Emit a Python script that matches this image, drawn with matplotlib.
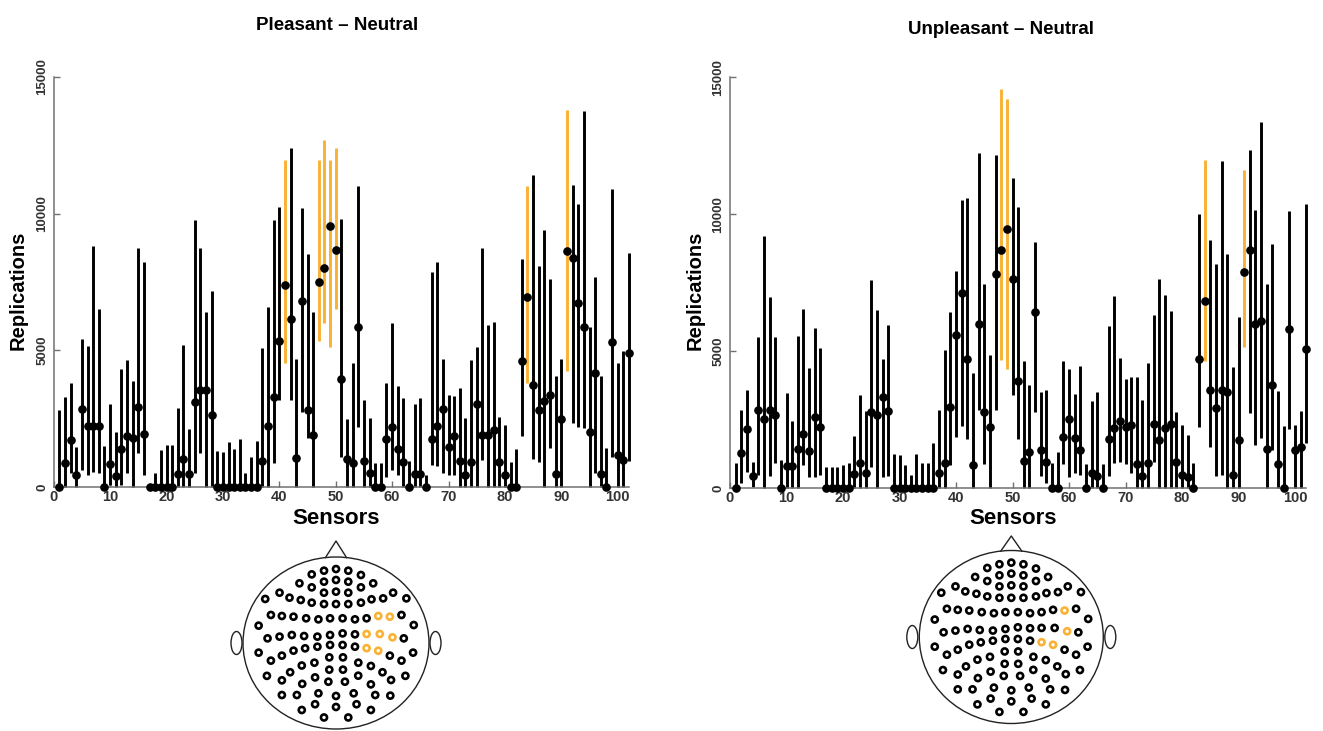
import numpy as np
import matplotlib
matplotlib.use("Agg")
import matplotlib.pyplot as plt
from matplotlib.patches import Ellipse

plt.rcParams['font.family'] = ['Liberation Sans', 'DejaVu Sans']

# ---- data: replications per sensor (mean, lower and upper bound) ----
sensors = np.arange(1, 103)

pleasant_mean = [0, 890, 1720, 440, 2850, 2230, 2230, 2230, 0, 840,
                 400, 1380, 1870, 1800, 2940, 1940, 0, 0, 0, 0,
                 0, 460, 1010, 460, 3120, 3550, 3550, 2630, 0, 0,
                 0, 0, 0, 0, 0, 0, 950, 2240, 3300, 5340,
                 7390, 6130, 1050, 6810, 2820, 1900, 7510, 8030, 9540, 8670,
                 3950, 1010, 870, 5860, 950, 520, 0, 0, 1760, 2210,
                 1390, 930, 0, 475, 475, 0, 1760, 2230, 2850, 1470,
                 1865, 950, 440, 930, 3030, 1900, 1900, 2080, 900, 440,
                 0, 0, 4620, 6940, 3730, 2820, 3160, 3360, 475, 2470,
                 8640, 8360, 6750, 5840, 2020, 4180, 475, 0, 5310, 1170,
                 990, 4890]
pleasant_low = [0, 0, 500, 0, 620, 440, 560, 500, 0, 70,
                0, 70, 500, 0, 1230, 440, 0, 0, 0, 0,
                0, 0, 0, 0, 500, 1230, 0, 0, 0, 0,
                0, 0, 0, 0, 0, 0, 0, 0, 890, 3180,
                4520, 3200, 0, 2750, 1780, 0, 5350, 5990, 5130, 6520,
                1110, 0, 0, 2210, 0, 0, 0, 0, 380, 620,
                440, 0, 0, 0, 0, 0, 800, 770, 500, 440,
                440, 0, 0, 0, 0, 990, 0, 0, 0, 0,
                0, 0, 1870, 3820, 1010, 930, 0, 1410, 0, 0,
                4250, 2350, 2210, 2150, 0, 500, 0, 0, 1110, 0,
                0, 950]
pleasant_high = [2820, 3300, 3820, 1450, 5400, 5160, 8810, 6530, 1510, 3020,
                 2010, 4300, 4640, 3880, 8730, 8250, 100, 500, 1350, 1540,
                 1540, 2900, 5180, 2130, 9760, 8750, 6390, 7170, 1330, 1290,
                 1660, 1400, 1740, 500, 1110, 1700, 5070, 6600, 9760, 10250,
                 11960, 12420, 4700, 10210, 8520, 6410, 11960, 12710, 11960, 12420,
                 9800, 2490, 4520, 11010, 3180, 2510, 870, 870, 3790, 5990,
                 3690, 3240, 950, 3020, 3240, 440, 7850, 8240, 4680, 3360,
                 3330, 3640, 2540, 4640, 5130, 8750, 5920, 6020, 2570, 2270,
                 930, 1380, 8330, 11010, 11410, 8090, 9400, 7610, 4070, 4680,
                 13810, 11040, 10350, 13760, 5860, 7670, 4060, 1410, 10900, 4550,
                 4990, 8550]
pleasant_hit = [41, 47, 48, 49, 50, 84, 91]

unpleasant_mean = [0, 1300, 2160, 450, 2840, 2530, 2840, 2680, 0, 820,
                   820, 1430, 1990, 1360, 2590, 2230, 0, 0, 0, 0,
                   0, 510, 940, 570, 2800, 2680, 3350, 2830, 0, 0,
                   0, 0, 0, 0, 0, 0, 550, 940, 2980, 5600,
                   7130, 4710, 850, 5990, 2780, 2230, 7830, 8710, 9460, 7650,
                   3900, 1000, 1320, 6420, 1380, 970, 0, 0, 1890, 2520,
                   1850, 1400, 0, 550, 450, 0, 1790, 2190, 2440, 2250,
                   2310, 890, 460, 940, 2340, 1770, 2190, 2350, 950, 490,
                   400, 0, 4730, 6820, 3590, 2920, 3590, 3500, 490, 1770,
                   7890, 8710, 6000, 6090, 1430, 3780, 880, 0, 5810, 1400,
                   1520, 5080]
unpleasant_low = [0, 180, 610, 60, 490, 0, 450, 910, 0, 0,
                  0, 0, 850, 430, 430, 490, 0, 0, 0, 0,
                  0, 0, 0, 0, 790, 0, 430, 450, 0, 0,
                  0, 0, 0, 0, 0, 0, 0, 0, 850, 1890,
                  2290, 1800, 0, 2840, 880, 0, 2860, 4690, 4350, 3410,
                  1790, 0, 0, 2780, 450, 180, 0, 0, 880, 430,
                  550, 490, 0, 0, 0, 0, 450, 910, 970, 880,
                  550, 0, 0, 0, 970, 0, 0, 0, 0, 0,
                  0, 0, 2250, 4630, 1490, 450, 490, 0, 0, 0,
                  5150, 2760, 1580, 1830, 0, 1400, 0, 0, 2170, 0,
                  0, 1640]
unpleasant_high = [910, 2860, 3590, 970, 5540, 9220, 6980, 5520, 1040, 3470,
                   2440, 5570, 6550, 4380, 5850, 5120, 790, 790, 790, 850,
                   910, 1920, 3410, 2830, 7610, 6490, 4730, 5970, 1240, 1220,
                   850, 490, 1240, 910, 940, 1670, 2860, 5030, 6420, 7940,
                   10540, 10600, 4200, 12240, 7450, 4870, 12180, 14580, 14190, 11330,
                   10260, 4650, 3780, 8980, 3530, 3590, 910, 1340, 4650, 4350,
                   3430, 4450, 880, 3190, 3500, 880, 5940, 7030, 4770, 3980,
                   4080, 4080, 3230, 4590, 6310, 7640, 7040, 6460, 2800, 2310,
                   1950, 910, 10020, 12000, 9050, 8190, 11940, 8560, 4420, 6270,
                   11600, 12340, 10150, 13360, 7470, 8920, 3560, 2290, 10110, 2310,
                   2830, 10390]
unpleasant_hit = [48, 49, 84, 91]

# ---- sensor layout on the head map (normalised to head radii) ----
elec_x = [-0.129, 0.0, 0.132, -0.261, 0.268, -0.393, -0.129, 0.0, 0.132, 0.4,
          -0.261, 0.268, -0.607, -0.129, 0.0, 0.132, 0.614, -0.761, -0.5, -0.379,
          0.382, 0.507, 0.757, -0.261, -0.129, 0.0, 0.132, 0.268, -0.7, -0.582,
          -0.457, -0.321, -0.189, -0.064, 0.071, 0.204, 0.329, 0.454, 0.579, 0.704,
          -0.832, 0.836, -0.736, -0.607, -0.475, -0.343, -0.2, -0.064, 0.071, 0.204,
          0.329, 0.471, 0.607, 0.729, -0.832, -0.582, -0.457, -0.332, -0.2, -0.064,
          0.071, 0.204, 0.329, 0.454, 0.579, 0.829, -0.7, -0.072, 0.075, 0.704,
          -0.493, -0.368, -0.232, -0.072, 0.075, 0.24, 0.375, 0.5, -0.743, -0.582,
          -0.225, -0.082, 0.096, 0.239, 0.592, 0.746, -0.363, 0.375, -0.582, -0.421,
          -0.189, 0.0, 0.19, 0.422, 0.584, -0.368, -0.225, 0.0, 0.221, 0.375,
          -0.129, 0.132]
elec_y = [0.841, 0.86, 0.841, 0.798, 0.791, 0.694, 0.713, 0.733, 0.713, 0.694,
          0.647, 0.647, 0.585, 0.585, 0.597, 0.585, 0.585, 0.512, 0.527, 0.5,
          0.508, 0.519, 0.519, 0.469, 0.453, 0.453, 0.453, 0.469, 0.326, 0.314,
          0.306, 0.287, 0.275, 0.287, 0.287, 0.275, 0.287, 0.314, 0.306, 0.326,
          0.202, 0.209, 0.054, 0.074, 0.093, 0.081, 0.074, 0.093, 0.112, 0.101,
          0.105, 0.105, 0.066, 0.054, -0.112, -0.147, -0.089, -0.062, -0.043, -0.023,
          -0.023, -0.043, -0.06, -0.09, -0.147, -0.112, -0.205, -0.167, -0.167, -0.205,
          -0.34, -0.262, -0.229, -0.31, -0.31, -0.229, -0.267, -0.34, -0.382, -0.434,
          -0.4, -0.45, -0.45, -0.38, -0.43, -0.382, -0.475, -0.481, -0.605, -0.605,
          -0.585, -0.616, -0.585, -0.605, -0.612, -0.779, -0.712, -0.744, -0.712, -0.779,
          -0.866, -0.866]
head_hit_pleasant = [38, 39, 51, 52, 53, 63, 64]
head_hit_unpleasant = [39, 53, 63, 64]

ORANGE = '#F9B233'
AXIS_GREY = '#707070'
W, H = 1323, 731

fig = plt.figure(figsize=(W / 100, H / 100), dpi=100)


def px_axes(x0, x1, ytop, ybot):
    return fig.add_axes([x0 / W, 1 - ybot / H, (x1 - x0) / W, (ybot - ytop) / H])


def panel(x0, x1, ytop, ybot, mean, low, high, hit, title, title_xy, ylab_x):
    ax = px_axes(x0, x1, ytop, ybot)
    colors = [ORANGE if s in hit else 'black' for s in sensors]
    ax.vlines(sensors, low, high, colors=colors, lw=2.1, zorder=2, clip_on=False)
    ax.plot(sensors, mean, 'o', color='black', ms=5.2, zorder=3, clip_on=False)
    ax.set_xlim(0, 102)
    ax.set_ylim(0, 15000)
    for s in ['top', 'right']:
        ax.spines[s].set_visible(False)
    for s in ['left', 'bottom']:
        ax.spines[s].set_color(AXIS_GREY)
        ax.spines[s].set_linewidth(1.1)
    ax.set_xticks(range(0, 101, 10))
    ax.set_yticks([0, 5000, 10000, 15000])
    ax.tick_params(direction='in', length=4, width=1, color=AXIS_GREY)
    ax.tick_params(axis='x', pad=2, labelsize=10.5, labelcolor='#333333')
    ax.tick_params(axis='y', pad=4, labelsize=9.5, labelcolor='#333333')
    for lab in ax.get_xticklabels():
        lab.set_fontweight('bold')
    for lab in ax.get_yticklabels():
        lab.set_fontweight('bold')
        lab.set_rotation(90)
        lab.set_va('center')
    fig.text(title_xy[0] / W, 1 - title_xy[1] / H, title, ha='center', va='center',
             fontsize=13.5, fontweight='bold')
    fig.text(ylab_x / W, 1 - 290 / H, 'Replications', rotation=90, ha='center',
             va='center', fontsize=14.5, fontweight='bold')
    fig.text((x0 + x1) / 2 / W - 0.004, 1 - 519 / H, 'Sensors', ha='center',
             va='center', fontsize=16, fontweight='bold')
    return ax


def head(cx, cy, rx, ry, hit, nose_top, ear_dx):
    ax = px_axes(cx - 125, cx + 125, cy - 115, H)
    ax.set_xlim(-125, 125)
    ax.set_ylim(cy - H, 115)
    ax.axis('off')
    ax.add_patch(Ellipse((0, 0), 2 * rx, 2 * ry, fill=False, ec='#222222', lw=1.0))
    bx = 10.5
    by = ry * np.sqrt(1 - (bx / rx) ** 2)
    ax.plot([-bx, 0, bx], [by, nose_top, by], color='#222222', lw=1.0)
    for sgn in (-1, 1):
        ax.add_patch(Ellipse((sgn * ear_dx, 0), 11, 23, fill=False, ec='#222222', lw=1.0))
    ex = np.array(elec_x) * rx
    ey = np.array(elec_y) * ry
    col = [ORANGE if (i + 1) in hit else 'black' for i in range(len(ex))]
    ax.scatter(ex, ey, s=19, facecolors='none', edgecolors=col, linewidths=1.9)


panel(53.7, 629.0, 77.0, 487.0, pleasant_mean, pleasant_low, pleasant_high,
      pleasant_hit, 'Pleasant – Neutral', (337, 25), 18)
panel(730.0, 1306.3, 77.3, 488.3, unpleasant_mean, unpleasant_low, unpleasant_high,
      unpleasant_hit, 'Unpleasant – Neutral', (1001, 30), 695)

head(336, 643, 93, 86, head_hit_pleasant, 102, 99.5)
head(1011.3, 637, 92, 86.5, head_hit_unpleasant, 101, 99)

fig.savefig('out.png', dpi=100)
